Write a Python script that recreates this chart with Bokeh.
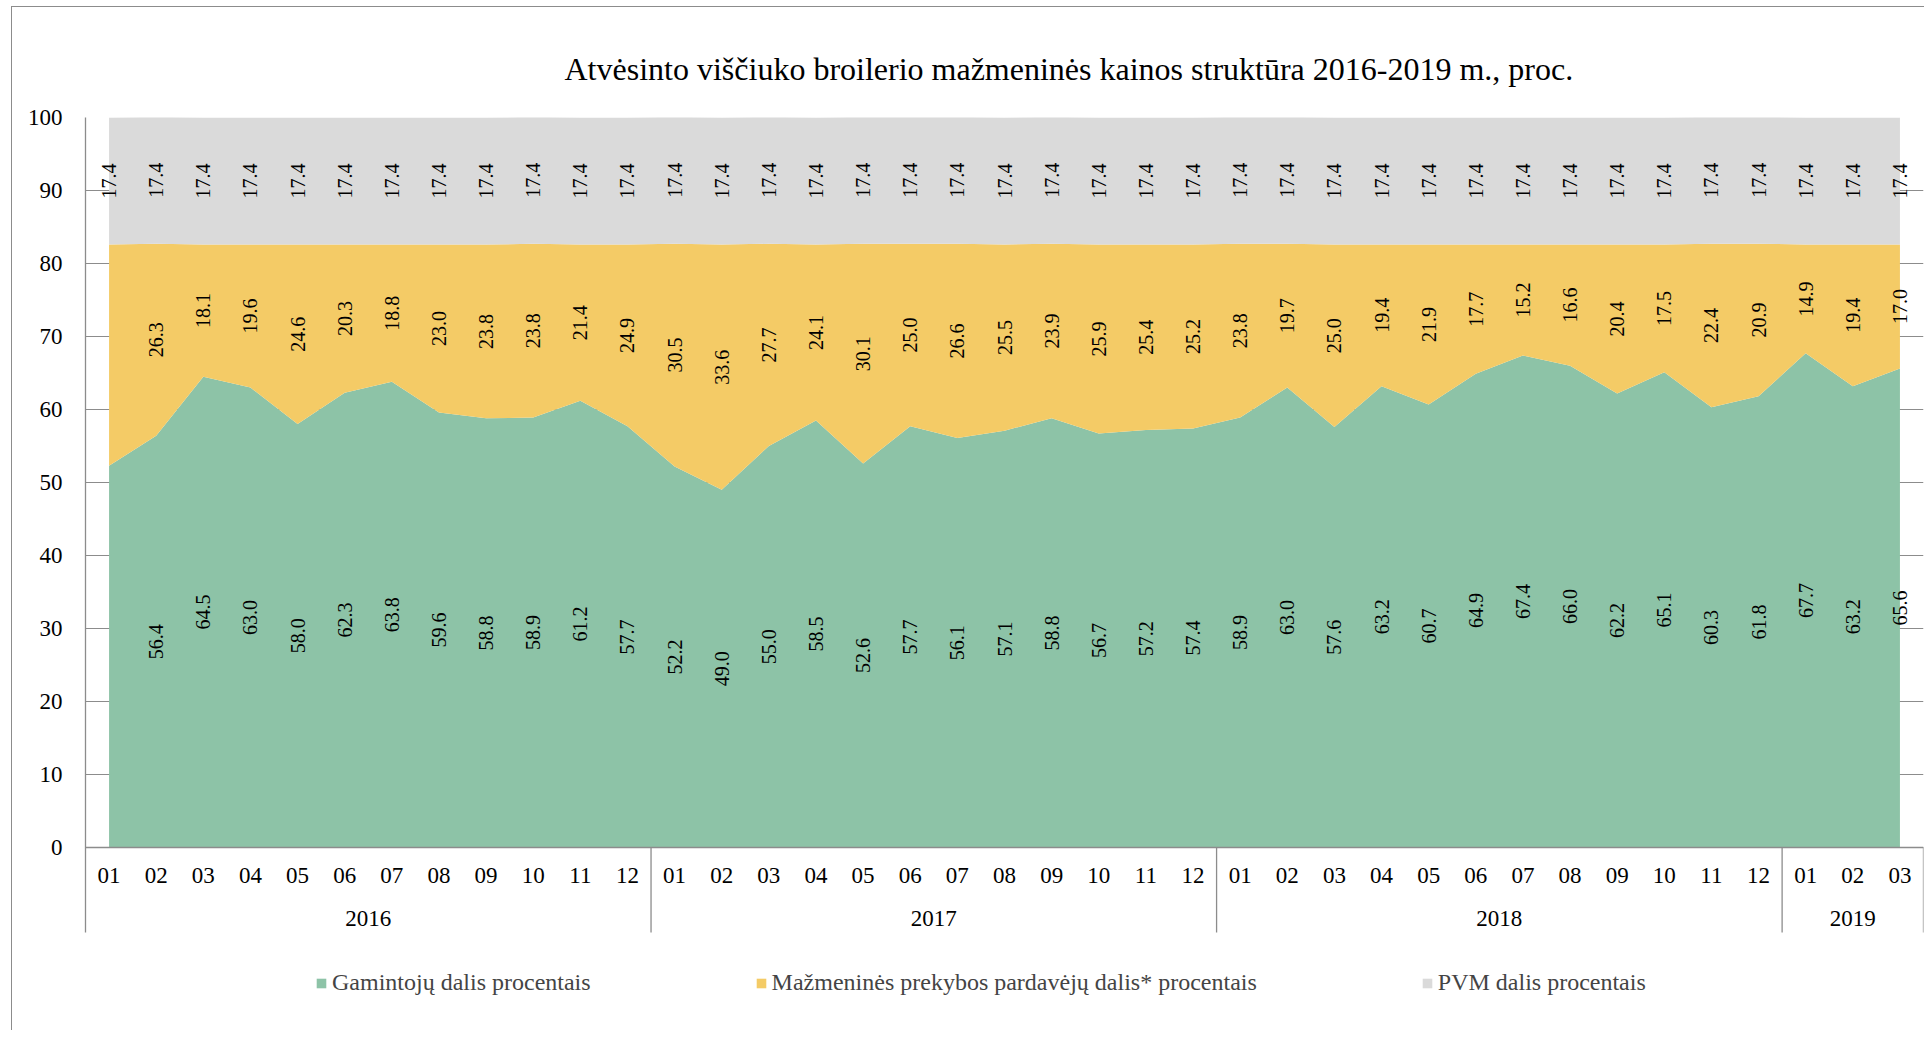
import math
from bokeh.plotting import figure
from bokeh.models import (FactorRange, Range1d, FixedTicker, ColumnDataSource,
                          Legend, LegendItem, Title, InlineStyleSheet)
from bokeh.embed import file_html
from bokeh.resources import INLINE

# ---------------- data ----------------
years = ["2016", "2017", "2018", "2019"]
months_2016 = ["01", "02", "03", "04", "05", "06", "07", "08", "09", "10", "11", "12"]
months_2017 = ["01", "02", "03", "04", "05", "06", "07", "08", "09", "10", "11", "12"]
months_2018 = ["01", "02", "03", "04", "05", "06", "07", "08", "09", "10", "11", "12"]
months_2019 = ["01", "02", "03"]

producers = [52.3, 56.4, 64.5, 63.0, 58.0, 62.3, 63.8, 59.6, 58.8, 58.9, 61.2, 57.7,
             52.2, 49.0, 55.0, 58.5, 52.6, 57.7, 56.1, 57.1, 58.8, 56.7, 57.2, 57.4,
             58.9, 63.0, 57.6, 63.2, 60.7, 64.9, 67.4, 66.0, 62.2, 65.1, 60.3, 61.8,
             67.7, 63.2, 65.6]
retailers = [30.3, 26.3, 18.1, 19.6, 24.6, 20.3, 18.8, 23.0, 23.8, 23.8, 21.4, 24.9,
             30.5, 33.6, 27.7, 24.1, 30.1, 25.0, 26.6, 25.5, 23.9, 25.9, 25.4, 25.2,
             23.8, 19.7, 25.0, 19.4, 21.9, 17.7, 15.2, 16.6, 20.4, 17.5, 22.4, 20.9,
             14.9, 19.4, 17.0]
vat = [17.4, 17.4, 17.4, 17.4, 17.4, 17.4, 17.4, 17.4, 17.4, 17.4, 17.4, 17.4,
       17.4, 17.4, 17.4, 17.4, 17.4, 17.4, 17.4, 17.4, 17.4, 17.4, 17.4, 17.4,
       17.4, 17.4, 17.4, 17.4, 17.4, 17.4, 17.4, 17.4, 17.4, 17.4, 17.4, 17.4,
       17.4, 17.4, 17.4]

series_names = ["Gamintojų dalis procentais",
                "Mažmeninės prekybos pardavėjų dalis* procentais",
                "PVM dalis procentais"]
title_text = "Atvėsinto viščiuko broilerio mažmeninės kainos struktūra 2016-2019 m., proc."
y_ticks = [0, 10, 20, 30, 40, 50, 60, 70, 80, 90, 100]

# ---------------- styling / layout ----------------
FONT = "Liberation Serif"
C_GREEN = "#8DC3A7"
C_YELLOW = "#F4CB66"
C_GREY = "#DADADA"
C_AXIS = "#8C8C8C"

W, H = 1924, 1030
FRAME_L, FRAME_R, FRAME_T = 85, 1, 117
PX_PER_UNIT = 7.3
Y_BOTTOM = 100 - (H - FRAME_T) / PX_PER_UNIT
SEP_BOTTOM = -85 / PX_PER_UNIT
YEAR_LABEL_Y = -71 / PX_PER_UNIT

month_lists = [months_2016, months_2017, months_2018, months_2019]
factors = [(y, m) for y, ms in zip(years, month_lists) for m in ms]

g_mid = [g / 2 for g in producers]
r_mid = [g + r / 2 for g, r in zip(producers, retailers)]
v_mid = [g + r + v / 2 for g, r, v in zip(producers, retailers, vat)]
g_txt = ["" if i == 0 else f"{v:.1f}" for i, v in enumerate(producers)]
r_txt = ["" if i == 0 else f"{v:.1f}" for i, v in enumerate(retailers)]
v_txt = [f"{v:.1f}" for v in vat]

src = ColumnDataSource(dict(x=factors, green=producers, yellow=retailers, grey=vat,
                            g_mid=g_mid, r_mid=r_mid, v_mid=v_mid,
                            g_txt=g_txt, r_txt=r_txt, v_txt=v_txt))

p = figure(x_range=FactorRange(factors=factors, group_padding=0, factor_padding=0,
                               subgroup_padding=0, range_padding=0),
           y_range=Range1d(Y_BOTTOM, 100),
           width=W, height=H, output_backend="svg", toolbar_location=None,
           min_border_left=FRAME_L, min_border_right=FRAME_R,
           min_border_top=FRAME_T, min_border_bottom=0)
p.outline_line_color = None
p.background_fill_color = "white"

# chart-area border (left and top edges; the rest lies outside the window)
p.stylesheets = [InlineStyleSheet(css="""
:host::after {
  content: ""; position: absolute; left: 11px; top: 6px; right: 0; bottom: 0;
  border-left: 1.5px solid #8C8C8C; border-top: 1.5px solid #8C8C8C;
  pointer-events: none; z-index: 10;
}
""")]

rs = p.varea_stack(["green", "yellow", "grey"], x="x", color=[C_GREEN, C_YELLOW, C_GREY], source=src)

for ycol, tcol in (("g_mid", "g_txt"), ("r_mid", "r_txt"), ("v_mid", "v_txt")):
    p.text(x="x", y=ycol, text=tcol, source=src, angle=math.pi / 2,
           text_align="center", text_baseline="middle",
           text_font={"value": FONT}, text_font_size="20px", text_color="black")

# year separators and year labels below the axis
counts = [len(m) for m in month_lists]
bounds, centers = [], []
acc = 0
for c in counts:
    centers.append(acc + c / 2)
    acc += c
    bounds.append(acc)
p.segment(x0=bounds, x1=bounds, y0=[0] * len(bounds), y1=[SEP_BOTTOM] * len(bounds),
          line_color=C_AXIS, line_width=1.3)
p.text(x=centers, y=[YEAR_LABEL_Y] * len(centers), text=years,
       text_align="center", text_baseline="middle",
       text_font={"value": FONT}, text_font_size="23px", text_color="black")

# axes
p.xgrid.grid_line_color = None
p.ygrid.ticker = FixedTicker(ticks=y_ticks)
p.ygrid.grid_line_color = C_AXIS
p.ygrid.grid_line_width = 1.2

ya = p.yaxis[0]
ya.ticker = FixedTicker(ticks=y_ticks)
ya.bounds = (SEP_BOTTOM, 100)
ya.axis_line_color = C_AXIS
ya.axis_line_width = 1.3
ya.major_tick_line_color = None
ya.minor_tick_line_color = None
ya.major_label_standoff = 17
ya.major_label_text_font = FONT
ya.major_label_text_font_size = "23px"
ya.major_label_text_color = "black"

xa = p.xaxis[0]
xa.fixed_location = 0
xa.axis_line_color = C_AXIS
xa.axis_line_width = 1.3
xa.major_tick_line_color = None
xa.minor_tick_line_color = None
xa.separator_line_color = None
xa.major_label_standoff = 14
xa.major_label_text_font = FONT
xa.major_label_text_font_size = "23px"
xa.major_label_text_color = "black"
xa.major_label_orientation = "horizontal"
xa.group_text_color = None

# title
p.title = Title(text=title_text, align="left", offset=479, standoff=62,
                text_font=FONT, text_font_size="32px", text_font_style="normal",
                text_color="black")

# legend
legend = Legend(items=[LegendItem(label=n, renderers=[r]) for n, r in zip(series_names, rs)],
                orientation="horizontal", location=(230, 34), spacing=164,
                glyph_width=12, glyph_height=12, label_standoff=5,
                label_text_font=FONT, label_text_font_size="24px",
                border_line_color=None, background_fill_alpha=0, padding=0, margin=0)
p.add_layout(legend, "center")

open("out.html", "w").write(file_html(p, INLINE))
